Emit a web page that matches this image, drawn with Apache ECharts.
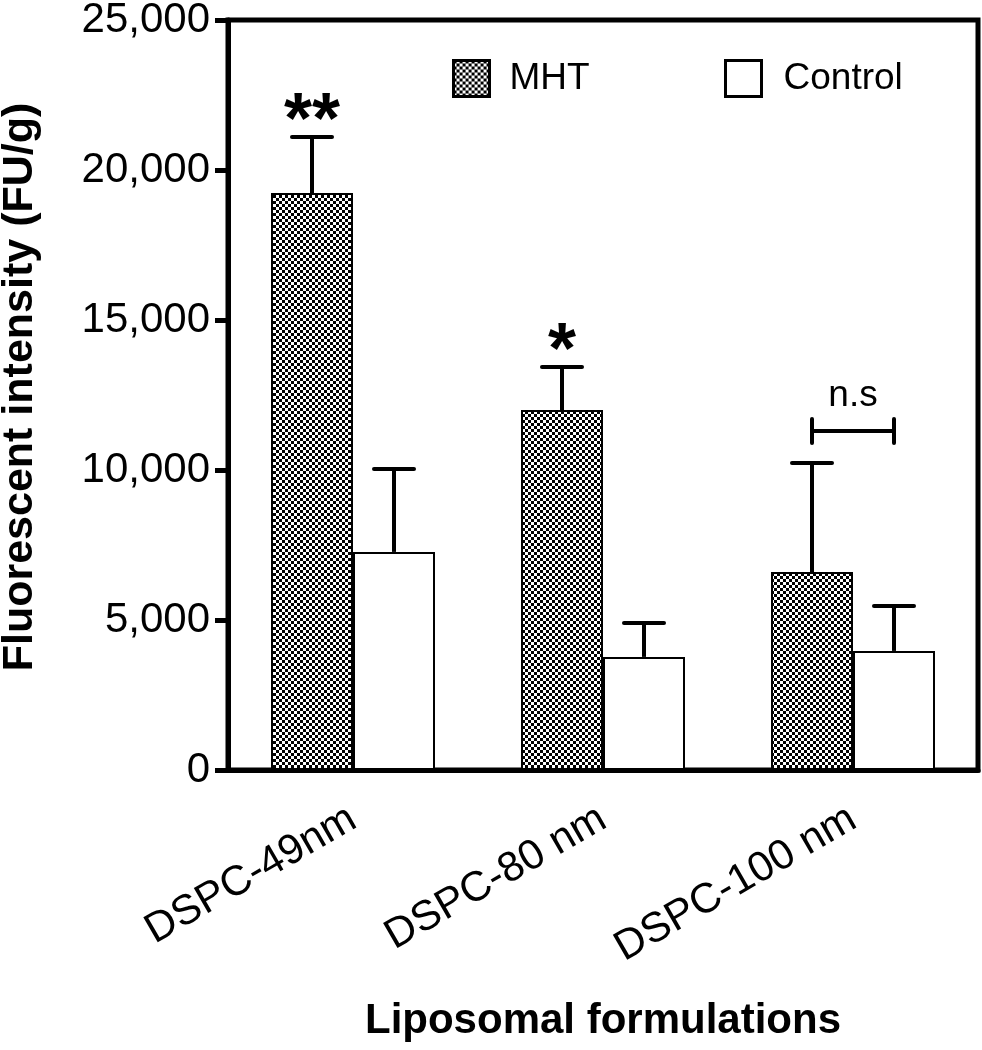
<!DOCTYPE html>
<html>
<head>
<meta charset="utf-8">
<script src="https://cdn.jsdelivr.net/npm/echarts@6/dist/echarts.min.js"></script>
<style>
html,body{margin:0;padding:0;background:#fff;}
#chart{width:982px;height:1050px;}
</style>
</head>
<body>
<div id="chart"></div>
<script>
// ---- data ----
const categories = ['DSPC-49nm', 'DSPC-80 nm', 'DSPC-100 nm'];
const seriesNames = ['MHT', 'Control'];
const mhtMean = [19230, 12000, 6600];
const mhtSD = [1870, 1430, 3630];
const ctrlMean = [7270, 3770, 3970];
const ctrlSD = [2760, 1130, 1500];
const significance = ['**', '*', ''];
const nsCategory = [2];
const nsValue = [11300];
const nsLabel = ['n.s'];
const yTickValues = [0, 5000, 10000, 15000, 20000, 25000];
const yTickLabels = ['0', '5,000', '10,000', '15,000', '20,000', '25,000'];
const xAxisTitle = 'Liposomal formulations';
const yAxisTitle = 'Fluorescent intensity (FU/g)';

// ---- styling ----
const FONT = '"Liberation Sans", Arial, Helvetica, sans-serif';
const BAR_W = 82;

function makeChecker() {
  const c = document.createElement('canvas');
  c.width = 6; c.height = 6;
  const ctx = c.getContext('2d');
  ctx.fillStyle = '#ffffff';
  ctx.fillRect(0, 0, 6, 6);
  ctx.fillStyle = '#000000';
  ctx.fillRect(0, 0, 3, 3);
  ctx.fillRect(3, 3, 3, 3);
  return c;
}
const checker = { image: makeChecker(), repeat: 'repeat' };

function errorRender(offset) {
  return function (params, api) {
    const i = api.value(0);
    const base = api.coord([i, api.value(1)]);
    const top = api.coord([i, api.value(2)]);
    const x = base[0] + offset;
    return {
      type: 'group',
      children: [
        { type: 'line', shape: { x1: x, y1: base[1], x2: x, y2: top[1] }, style: { stroke: '#000', lineWidth: 4 } },
        { type: 'line', shape: { x1: x - 20, y1: top[1], x2: x + 20, y2: top[1] }, style: { stroke: '#000', lineWidth: 4, lineCap: 'round' } }
      ]
    };
  };
}

const mhtErr = mhtMean.map((m, i) => [i, m, m + mhtSD[i]]);
const ctrlErr = ctrlMean.map((m, i) => [i, m, m + ctrlSD[i]]);
const starData = mhtMean.map((m, i) => [i, m + mhtSD[i], significance[i]]).filter(d => d[2] !== '');
const nsData = nsCategory.map((c, k) => [c, nsValue[k], nsLabel[k]]);

const chart = echarts.init(document.getElementById('chart'), null, { renderer: 'canvas' });

const option = {
  animation: false,
  backgroundColor: '#ffffff',
  grid: { left: 228, top: 20, width: 750, height: 750, containLabel: false, outerBoundsMode: 'none',
    show: true, borderColor: '#000', borderWidth: 5, backgroundColor: 'transparent' },
  legend: [
    { data: ['MHT'], left: 452, top: 59, padding: 0, itemWidth: 36, itemHeight: 36, icon: 'rect',
      itemStyle: { borderColor: '#000', borderWidth: 3 },
      textStyle: { fontSize: 37, fontFamily: FONT, color: '#000', padding: [0, 0, 0, 15] } },
    { data: ['Control'], left: 724, top: 59, padding: 0, itemWidth: 36, itemHeight: 36, icon: 'rect',
      itemStyle: { borderColor: '#000', borderWidth: 3 },
      textStyle: { fontSize: 37, fontFamily: FONT, color: '#000', padding: [0, 0, 0, 17] } }
  ],
  xAxis: {
    type: 'category',
    data: categories,
    boundaryGap: true,
    name: xAxisTitle,
    nameLocation: 'middle',
    nameGap: 230,
    nameTextStyle: { fontSize: 42, fontWeight: 'bold', fontFamily: FONT, color: '#000' },
    axisLine: { lineStyle: { color: '#000', width: 5 } },
    axisTick: { alignWithLabel: true, length: 13, lineStyle: { color: '#000', width: 5 } },
    axisLabel: { rotate: 30, margin: 46, fontSize: 42, fontFamily: FONT, color: '#000', interval: 0 },
    splitLine: { show: false }
  },
  yAxis: {
    type: 'value',
    min: 0, max: 25000, interval: 5000,
    name: yAxisTitle,
    nameLocation: 'middle',
    nameGap: 186,
    nameTextStyle: { fontSize: 43, fontWeight: 'bold', fontFamily: FONT, color: '#000', padding: [0, 0, 0, 16] },
    axisLine: { show: true, lineStyle: { color: '#000', width: 5 } },
    axisTick: { show: true, length: 13, lineStyle: { color: '#000', width: 5 } },
    axisLabel: { margin: 18, fontSize: 42, fontFamily: FONT, color: '#000',
      formatter: function (v) { const k = yTickValues.indexOf(v); return k >= 0 ? yTickLabels[k] : ''; } },
    splitLine: { show: false }
  },
  series: [
    { name: seriesNames[0], type: 'bar', data: mhtMean, barWidth: BAR_W, barGap: '0%',
      itemStyle: { color: checker, borderColor: '#000', borderWidth: 2 }, z: 2 },
    { name: seriesNames[1], type: 'bar', data: ctrlMean, barWidth: BAR_W, barGap: '0%',
      itemStyle: { color: '#ffffff', borderColor: '#000', borderWidth: 2 }, z: 2 },
    { type: 'custom', data: mhtErr, renderItem: errorRender(-BAR_W / 2), z: 3, silent: true },
    { type: 'custom', data: ctrlErr, renderItem: errorRender(BAR_W / 2), z: 3, silent: true },
    { type: 'custom', data: starData, z: 4, silent: true,
      renderItem: function (params, api) {
        const p = api.coord([api.value(0), api.value(1)]);
        return { type: 'text', style: { text: starData[params.dataIndex][2], x: p[0] - BAR_W / 2, y: p[1] - 14,
          align: 'center', verticalAlign: 'middle', fontSize: 72, fontWeight: 'bold', fontFamily: FONT, fill: '#000' } };
      } },
    { type: 'custom', data: nsData, z: 4, silent: true,
      renderItem: function (params, api) {
        const p = api.coord([api.value(0), api.value(1)]);
        const x1 = p[0] - BAR_W / 2, x2 = p[0] + BAR_W / 2, y = p[1];
        return { type: 'group', children: [
          { type: 'line', shape: { x1: x1, y1: y, x2: x2, y2: y }, style: { stroke: '#000', lineWidth: 4 } },
          { type: 'line', shape: { x1: x1, y1: y - 12, x2: x1, y2: y + 12 }, style: { stroke: '#000', lineWidth: 4, lineCap: 'round' } },
          { type: 'line', shape: { x1: x2, y1: y - 12, x2: x2, y2: y + 12 }, style: { stroke: '#000', lineWidth: 4, lineCap: 'round' } },
          { type: 'text', style: { text: nsData[params.dataIndex][2], x: (x1 + x2) / 2, y: y - 17,
            align: 'center', verticalAlign: 'bottom', fontSize: 37, fontFamily: FONT, fill: '#000' } }
        ] };
      } }
  ]
};
chart.setOption(option);
</script>
</body>
</html>
